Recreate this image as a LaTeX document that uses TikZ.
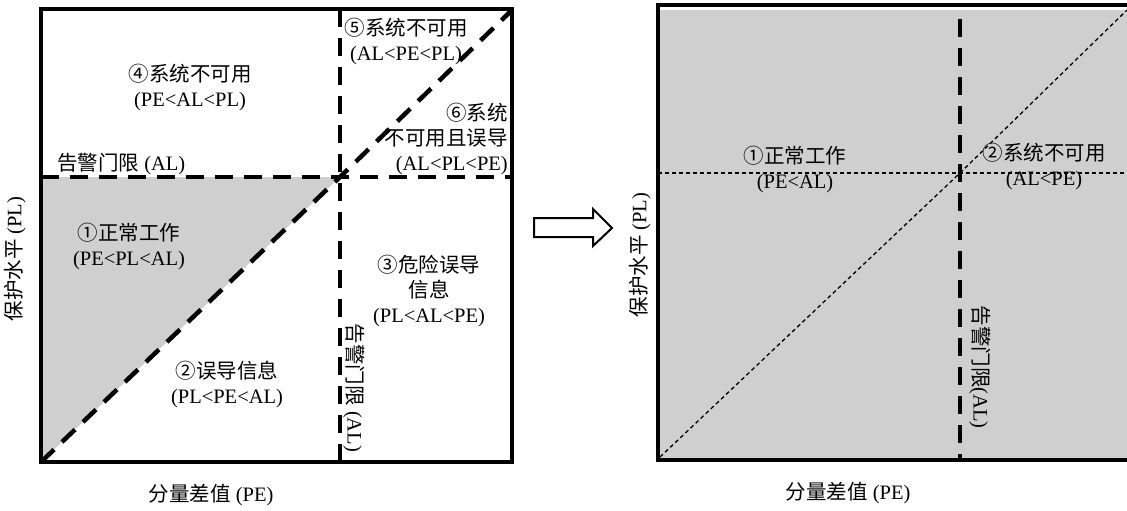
\documentclass[tikz,border=0pt]{standalone}
\usepackage{fontspec}
\setmainfont{Liberation Serif}
\newfontfamily\cjk{Noto Sans CJK SC}
\definecolor{regiongray}{RGB}{207,207,207}
\begin{document}
\begin{tikzpicture}[x=1pt,y=-1pt,
  lbl/.style={font=\fontsize{20.5}{25}\selectfont, align=center, inner sep=0pt},
  frame/.style={line width=4pt, line cap=rect},
  thickdash/.style={line width=4.5pt, dash pattern=on 18pt off 11pt},
  thindot/.style={line width=1.3pt, dash pattern=on 4pt off 3pt},
  hollowarrow/.style={draw, line width=2pt, fill=white, line join=miter}]
\useasboundingbox (0,0) rectangle (1127,511);
% ---------- left panel ----------
\coordinate (LTL) at (41,9);
\coordinate (LTR) at (512,9);
\coordinate (LBL) at (41,462);
\coordinate (LBR) at (512,462);
\coordinate (LX)  at (340,177);
\coordinate (LHa) at (41,177);
\coordinate (LHb) at (512,177);
\coordinate (LVa) at (340,9);
\coordinate (LVb) at (340,467);
\coordinate (LDe) at (512,10);
\fill[regiongray] (LHa) -- (LX) -- (LBL) -- cycle;
\draw[thickdash] (LHa) -- (LHb);
\draw[thickdash] (LVa) -- (LVb);
\draw[thickdash] (LBL) -- (LX) -- (LDe);
\draw[frame] (LTL) rectangle (LBR);
\node[lbl] (r4) at (190,88) {{\cjk ④系统不可用}\\(PE<AL<PL)};
\node[lbl, anchor=base west] (alh) at (57,170) {{\cjk 告警门限} (AL)};
\node[lbl] (r1) at (129,247) {{\cjk ①正常工作}\\(PE<PL<AL)};
\node[lbl] (r2) at (227,384) {{\cjk ②误导信息}\\(PL<PE<AL)};
\node[lbl] (r3) at (429,291) {{\cjk ③危险误导}\\{\cjk 信息}\\(PL<AL<PE)};
\node[lbl, rotate=-90] (alv) at (354,388) {{\cjk 告警门限} (AL)};
\node[lbl] (r5) at (406,42) {{\cjk ⑤系统不可用}\\(AL<PE<PL)};
\node[lbl, align=right, anchor=east] (r6) at (508,139) {{\cjk ⑥系统}\\{\cjk 不可用且误导}\\(AL<PL<PE)};
\node[lbl, rotate=90] (ylab1) at (15,259) {{\cjk 保护水平} (PL)};
\node[lbl] (xlab1) at (211,495) {{\cjk 分量差值} (PE)};
% ---------- arrow ----------
\draw[hollowarrow] (534,218) -- (593,218) -- (593,209) -- (612,228) -- (593,246) -- (593,237) -- (534,237) -- cycle;
% ---------- right panel ----------
\coordinate (RTL) at (658,5);
\coordinate (RTR) at (1130,5);
\coordinate (RBL) at (658,460);
\coordinate (RBR) at (1130,460);
\coordinate (RX)  at (960,173);
\coordinate (RHa) at (658,173);
\coordinate (RHb) at (1127,173);
\coordinate (RVa) at (960,8);
\coordinate (RVb) at (960,462);
\coordinate (RDa) at (660,457);
\coordinate (RDe) at (1127,10);
\fill[regiongray] (658,10) rectangle (1127,458);
\draw[thindot] (RHa) -- (RHb);
\draw[thindot] (RDa) -- (RX) -- (RDe);
\draw[thickdash, dash phase=18pt] (RVa) -- (RVb);
\draw[frame] (RTR) -- (RTL) -- (RBL) -- (RBR);
\node[lbl] (n1) at (795,170) {{\cjk ①正常工作}\\(PE<AL)};
\node[lbl] (n2) at (1044,167) {{\cjk ②系统不可用}\\(AL<PE)};
\node[lbl, rotate=-90] (alv2) at (980,367) {{\cjk 告警门限}(AL)};
\node[lbl, rotate=90] (ylab2) at (640,255) {{\cjk 保护水平} (PL)};
\node[lbl] (xlab2) at (848,493) {{\cjk 分量差值} (PE)};
\end{tikzpicture}
\end{document}
